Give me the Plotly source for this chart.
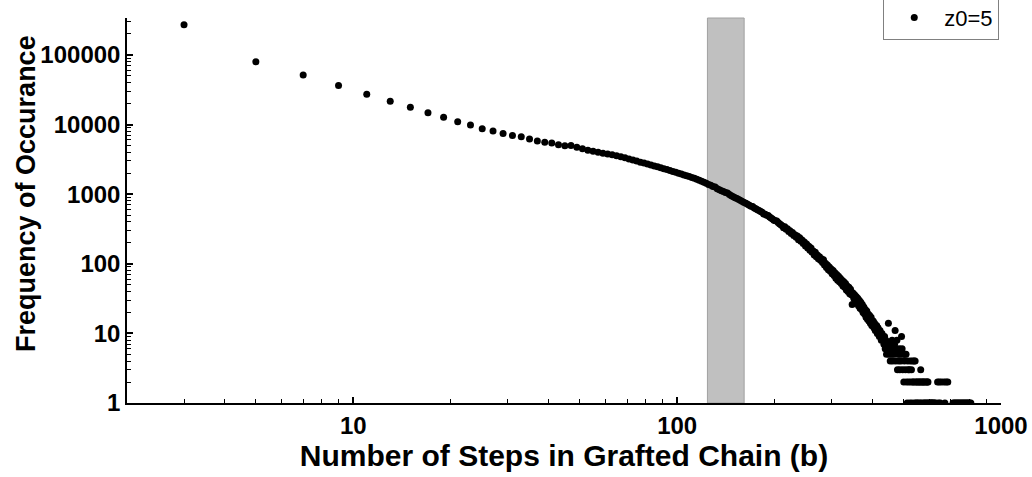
import plotly.graph_objects as go

# Frequency of occurrence for odd chain lengths 3, 5, ..., 399
HEAD_STEPS = list(range(3, 401, 2))
HEAD_COUNTS = [
    272000, 79400, 51600, 36300, 27200, 21500, 17700, 14800, 12700, 11000,
    9870, 8730, 8090, 7400, 6930, 6700, 6210, 5810, 5570, 5420, 5140,
    4950, 5000, 4720, 4480, 4260, 4120, 3990, 3870, 3780, 3680, 3560, 3450,
    3330, 3200, 3090, 2980, 2880, 2790, 2700, 2620, 2530, 2470, 2390, 2320,
    2250, 2190, 2120, 2060,
    2000, 1950, 1890, 1840, 1790, 1740, 1690, 1640, 1580, 1530, 1480, 1430,
    1380, 1340, 1290, 1270, 1200, 1160, 1120, 1090, 1060, 1035, 985, 950,
    920, 890, 865, 835, 810, 785,
    760, 740, 715, 695, 670, 662, 630, 615, 595, 580, 565, 548, 520, 515,
    498, 495, 470, 455, 440, 420, 415, 410, 390, 375, 362,
    352, 330, 340, 312, 318, 290, 298, 272, 282, 255, 262, 240, 250, 222,
    236, 210, 220, 195, 205, 180, 192, 168, 178, 156, 168, 146, 152, 134,
    146, 126, 134, 118, 126, 112, 118,
    104, 114, 96, 102, 88, 96, 82, 90, 78, 84, 72, 80, 68, 74, 62, 70, 58,
    66, 55, 62, 52, 58, 48, 55, 46, 52, 42, 48, 40, 46, 37, 43, 36, 26, 38,
    32, 36, 29, 34, 27, 32, 25, 30, 23, 28, 22, 26, 20, 24, 19, 22, 17, 21,
    16, 19, 15, 18, 14, 17, 13,
]

# Sparse tail (lengths with zero occurrences are absent)
TAIL_STEPS = [
    401, 403, 405, 407, 409, 411, 413, 415, 417, 419, 421, 423, 425, 427,
    429, 431, 433, 435, 437, 439, 441, 443, 445, 447, 449, 451, 453, 455,
    457, 459, 461, 463, 465, 467, 469, 471, 473, 475, 477, 479, 481, 483,
    485, 487, 489, 491, 493, 495, 497, 499, 501, 503, 505, 507, 509, 511,
    513, 515, 517, 519, 521, 523, 525, 527, 529, 531, 533, 535, 537, 539,
    541, 543, 545, 547, 549, 551, 553, 557, 559, 561, 563, 565, 567, 569,
    571, 575, 577, 579, 581, 583, 587, 589, 591, 593, 595, 597, 601, 605,
    609, 611, 615, 619, 623, 629, 637, 641, 645, 649, 655, 667, 671, 677,
    685, 711, 717, 723, 729, 735, 741, 747, 753, 759, 765, 771, 777, 783,
    789, 795, 801, 807,
]
TAIL_COUNTS = [
    13, 15, 12, 14, 11, 12, 13, 10, 12, 11, 9, 11, 10, 8,
    10, 9, 8, 7, 9, 6, 8, 5, 7, 6, 14, 5, 7, 4,
    6, 5, 8, 4, 6, 5, 7, 11, 4, 6, 8, 3, 5, 4,
    6, 3, 5, 4, 9, 6, 3, 5, 2, 4, 5, 3, 5, 2,
    1, 4, 3, 2, 3, 1, 4, 2, 3, 1, 4, 2, 2, 4,
    1, 4, 2, 1, 2, 1, 2, 1, 2, 2, 1, 3, 2, 1,
    2, 2, 1, 2, 1, 2, 1, 2, 1, 2, 2, 1, 1, 1,
    1, 1, 1, 1, 1, 1, 2, 1, 2, 1, 2, 2, 1, 2,
    2, 1, 1, 1, 1, 1, 1, 1, 1, 1, 1, 1, 1, 1,
    1, 1, 1, 1,
]

SERIES_NAME = "z0=5"
BAND = [124, 161]          # highlighted range of chain lengths
X_TITLE = "Number of Steps in Grafted Chain (b)"
Y_TITLE = "Frequency of Occurance"

steps = HEAD_STEPS + TAIL_STEPS
counts = HEAD_COUNTS + TAIL_COUNTS

FONT = "Liberation Sans"

fig = go.Figure()
fig.add_trace(go.Scatter(
    x=steps, y=counts, mode="markers", name=SERIES_NAME,
    marker=dict(color="black", size=7, line=dict(width=0)),
    showlegend=True,
))

fig.add_shape(
    type="rect", xref="x", yref="paper",
    x0=BAND[0], x1=BAND[1], y0=0, y1=1,
    fillcolor="#c0c0c0", line=dict(color="#a0a0a0", width=1),
    layer="below",
)

axis_common = dict(
    type="log", dtick=1, tickformat="d",
    showline=True, linecolor="black", linewidth=1.5,
    ticks="inside", ticklen=6, tickwidth=1.5, tickcolor="black",
    showgrid=False, zeroline=False, mirror=False,
    tickfont=dict(family=FONT, size=24, color="black", weight=700),
    minor=dict(ticks="inside", ticklen=4, tickwidth=1, tickcolor="black",
               dtick="D1", showgrid=False),
)

fig.update_xaxes(
    **axis_common, range=[0.30103, 3.0],
    title=dict(text=X_TITLE, standoff=6,
               font=dict(family=FONT, size=30, color="black", weight=700)),
)
fig.update_yaxes(**axis_common, range=[0, 5.53])

# vertical axis title
fig.add_annotation(
    text=Y_TITLE, textangle=-90, showarrow=False,
    xref="paper", yref="paper", x=-0.1156, y=0.5455,
    xanchor="center", yanchor="middle",
    font=dict(family=FONT, size=27, color="black", weight=700),
)

fig.update_layout(
    width=1032, height=477,
    margin=dict(l=127, r=31, t=18, b=74, autoexpand=False),
    plot_bgcolor="white", paper_bgcolor="white",
    legend=dict(
        x=0.998, xanchor="right", y=1.058, yanchor="top",
        bgcolor="white", bordercolor="#808080", borderwidth=1,
        font=dict(family=FONT, size=22, color="black"),
        itemwidth=50,
    ),
)

fig.write_html("out.html")
